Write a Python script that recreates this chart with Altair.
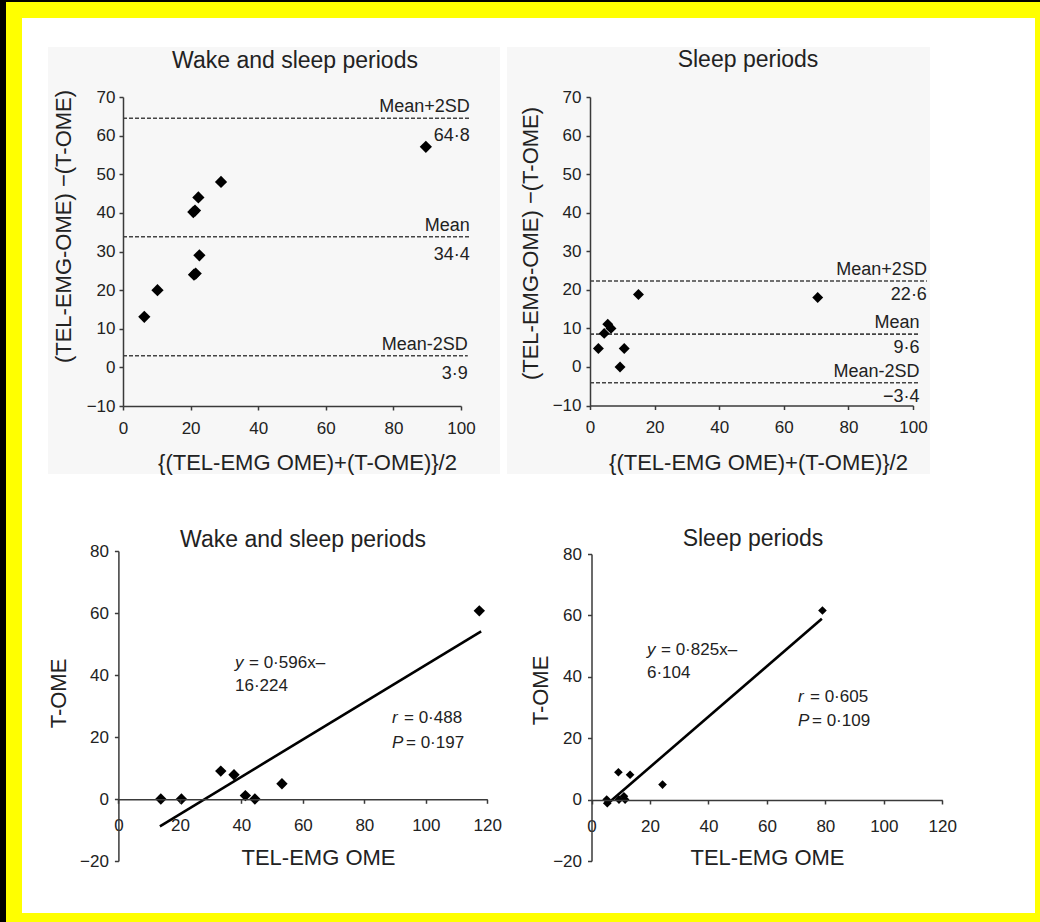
import altair as alt
import pandas as pd

# ---------------- data ----------------
# Top-left: Bland-Altman, wake and sleep periods
ba_all_mean = [6.3, 10.2, 20.8, 21.3, 22.3, 29.0, 21.0, 21.5, 22.6, 89.6]
ba_all_diff = [13.1, 20.0, 40.2, 40.6, 44.0, 48.0, 24.0, 24.3, 29.0, 57.1]
ba_all_limits = [64.5, 33.8, 3.0]
ba_all_limit_end = [102.6, 102.6, 102.0]
ba_all_names = ["Mean+2SD", "Mean", "Mean-2SD"]
ba_all_values = ["64·8", "34·4", "3·9"]

# Top-right: Bland-Altman, sleep periods
ba_sleep_mean = [2.6, 4.4, 5.5, 6.5, 9.3, 10.6, 15.0, 70.5]
ba_sleep_diff = [4.8, 8.7, 11.1, 10.0, 0.0, 4.8, 18.8, 18.0]
ba_sleep_limits = [22.3, 8.5, -4.1]
ba_sleep_limit_end = [104.3, 102.0, 102.0]
ba_sleep_names = ["Mean+2SD", "Mean", "Mean-2SD"]
ba_sleep_values = ["22·6", "9·6", "−3·4"]

# Bottom-left: regression, wake and sleep periods
tel_all = [13.8, 20.5, 33.3, 37.6, 41.3, 44.4, 53.2, 117.4]
tome_all = [0.0, 0.0, 9.0, 7.8, 1.1, 0.0, 4.9, 60.7]
fit_all_x = [13.5, 118.0]
fit_all_y = [-8.8, 54.1]

# Bottom-right: regression, sleep periods
tel_sleep = [5.2, 5.4, 9.2, 9.4, 11.1, 11.5, 13.2, 24.3, 79.0]
tome_sleep = [0.0, -1.2, 8.9, 0.0, 1.1, 0.0, 8.1, 4.9, 61.6]
fit_sleep_x = [5.8, 78.8]
fit_sleep_y = [-1.1, 58.9]

ba_ticks_x = [0, 20, 40, 60, 80, 100]
ba_ticks_y = [-10, 0, 10, 20, 30, 40, 50, 60, 70]
reg_ticks_x = [0, 20, 40, 60, 80, 100, 120]
reg_ticks_y = [-20, 0, 20, 40, 60, 80]

panel_titles = ["Wake and sleep periods", "Sleep periods", "Wake and sleep periods", "Sleep periods"]
ba_x_title = "{(TEL-EMG OME)+(T-OME)}/2"
ba_y_title = "(TEL-EMG-OME) −(T-OME)"
reg_x_title = "TEL-EMG OME"
reg_y_title = "T-OME"

# ---------------- layout / styling ----------------
FONT = "Liberation Sans"
CW, CH = 1040, 922            # canvas
PL, PT, PR, PB = 22, 18, 5, 9  # yellow frame = padding
W, H = CW - PL - PR, CH - PT - PB
INK = "#222222"
AX = "#3a3a3a"
DUMMY = alt.Data(values=[{}])


def X(px):  # canvas x -> plot x
    return px - PL


def Y(py):  # canvas y -> plot y
    return py - PT


def sc(domain, x0, x1):
    return alt.Scale(domain=domain, range=[x0, x1], nice=False, zero=False)


def xscale(domain, a, b):
    return sc(domain, X(a), X(b))


def yscale(domain, a, b):
    return sc(domain, Y(a), Y(b))


def xaxis(at_y, values, title, tx, ty, pad):
    return alt.Axis(
        orient="bottom", offset=Y(at_y) - H, values=values, title=title,
        titleX=X(tx), titleY=ty - at_y, titleAlign="center", titleBaseline="middle", titleAngle=0,
        titleFont=FONT, titleFontSize=22, titleFontWeight="normal", titleColor=INK,
        labelFont=FONT, labelFontSize=17, labelColor=INK, labelPadding=pad,
        labelFlush=False, labelOverlap=False, grid=False,
        domainColor=AX, domainWidth=1.5, tickColor=AX, tickWidth=1.5, tickSize=4, zindex=1)


def yaxis(at_x, values, title, tx, ty, pad):
    return alt.Axis(
        orient="left", offset=-X(at_x), values=values, title=title,
        titleX=tx - at_x, titleY=Y(ty), titleAlign="center", titleBaseline="middle", titleAngle=270,
        titleFont=FONT, titleFontSize=22, titleFontWeight="normal", titleColor=INK,
        labelFont=FONT, labelFontSize=17, labelColor=INK, labelPadding=pad,
        labelFlush=False, labelOverlap=False, grid=False,
        domainColor=AX, domainWidth=1.5, tickColor=AX, tickWidth=1.5, tickSize=4, zindex=1)


def rect(x, x2, y, y2, color):
    return alt.Chart(DUMMY).mark_rect(color=color, opacity=1).encode(
        x=alt.value(X(x)), x2=alt.value(X(x2)), y=alt.value(Y(y)), y2=alt.value(Y(y2)))


def text(s, x, y, size, align="left", italic=False):
    return alt.Chart(DUMMY).mark_text(
        text=s, align=align, baseline="alphabetic", font=FONT, fontSize=size,
        fontStyle="italic" if italic else "normal", color=INK,
    ).encode(x=alt.value(X(x)), y=alt.value(Y(y)))


def bland_altman(mean, diff, limits, ends, names, values, xs, ys, xax, yax, size, val_dy):
    pts = pd.DataFrame({"m": mean, "d": diff})
    lim = pd.DataFrame({"v": limits, "x1": ends, "name": names, "val": values})
    lim["x0"] = 0
    rules = alt.Chart(lim).mark_rule(strokeDash=[4, 2], color="#444444", strokeWidth=1.6).encode(
        x=alt.X("x0:Q", scale=xs, axis=None), x2="x1:Q",
        y=alt.Y("v:Q", scale=ys, axis=None))
    points = alt.Chart(pts).mark_point(shape="diamond", filled=True, color="black",
                                       opacity=1, size=size).encode(
        x=alt.X("m:Q", scale=xs, axis=xax), y=alt.Y("d:Q", scale=ys, axis=yax))
    lab = alt.Chart(lim).mark_text(align="right", baseline="bottom", dy=-2, font=FONT,
                                   fontSize=18, color=INK).encode(
        x=alt.X("x1:Q", scale=xs, axis=None), y=alt.Y("v:Q", scale=ys, axis=None), text="name:N")
    val = alt.Chart(lim).mark_text(align="right", baseline="top", dy=val_dy, font=FONT,
                                   fontSize=18, color=INK).encode(
        x=alt.X("x1:Q", scale=xs, axis=None), y=alt.Y("v:Q", scale=ys, axis=None), text="val:N")
    return [rules, points, lab, val]


def regression(tel, tome, fx, fy, xs, ys, xax, yax, size):
    pts = pd.DataFrame({"tel": tel, "tome": tome})
    fit = pd.DataFrame({"fx": fx, "fy": fy})
    line = alt.Chart(fit).mark_line(color="black", strokeWidth=2.6).encode(
        x=alt.X("fx:Q", scale=xs, axis=None), y=alt.Y("fy:Q", scale=ys, axis=None))
    points = alt.Chart(pts).mark_point(shape="diamond", filled=True, color="black",
                                       opacity=1, size=size).encode(
        x=alt.X("tel:Q", scale=xs, axis=xax), y=alt.Y("tome:Q", scale=ys, axis=yax))
    return [line, points]


# ---------------- panels ----------------
p1 = bland_altman(
    ba_all_mean, ba_all_diff, ba_all_limits, ba_all_limit_end, ba_all_names, ba_all_values,
    xscale([0, 100], 123, 461), yscale([-10, 70], 406, 97),
    xaxis(406, ba_ticks_x, ba_x_title, 307, 462, 10),
    yaxis(123, ba_ticks_y, ba_y_title, 63, 226, 4),
    150, 9)

p2 = bland_altman(
    ba_sleep_mean, ba_sleep_diff, ba_sleep_limits, ba_sleep_limit_end, ba_sleep_names, ba_sleep_values,
    xscale([0, 100], 590, 913), yscale([-10, 70], 405.5, 97),
    xaxis(405.5, ba_ticks_x, ba_x_title, 758, 462, 10),
    yaxis(590, ba_ticks_y, ba_y_title, 530, 243, 5),
    120, 5)

p3 = regression(
    tel_all, tome_all, fit_all_x, fit_all_y,
    xscale([0, 120], 118.4, 487.3), yscale([-20, 80], 861, 551),
    xaxis(799.3, reg_ticks_x, reg_x_title, 318, 857, 14),
    yaxis(118.4, reg_ticks_y, reg_y_title, 58, 693, 6),
    130)

p4 = regression(
    tel_sleep, tome_sleep, fit_sleep_x, fit_sleep_y,
    xscale([0, 120], 591.5, 942.3), yscale([-20, 80], 861, 554),
    xaxis(800, reg_ticks_x, reg_x_title, 767, 857, 14),
    yaxis(591.5, reg_ticks_y, reg_y_title, 540, 690, 6),
    75)

frame = [
    rect(0, CW, 0, 2, "black"),
    rect(0, 6, 0, CH, "black"),
    rect(48, 500, 47, 474, "#f7f7f7"),
    rect(507, 930, 47, 474, "#f7f7f7"),
]

titles = [
    text(panel_titles[0], 295, 68, 23, "center"),
    text(panel_titles[1], 748, 67, 23, "center"),
    text(panel_titles[2], 303, 547, 23, "center"),
    text(panel_titles[3], 753, 546, 23, "center"),
]

annotations = [
    text("y", 235, 668, 17, italic=True), text("= 0·596x–", 249, 668, 17),
    text("16·224", 235, 691, 17),
    text("r", 392, 723, 17, italic=True), text("= 0·488", 404, 723, 17),
    text("P", 392, 748, 17, italic=True), text("= 0·197", 406, 748, 17),
    text("y", 647, 655, 17, italic=True), text("= 0·825x–", 661, 655, 17),
    text("6·104", 647, 678, 17),
    text("r", 798, 702, 17, italic=True), text("= 0·605", 810, 702, 17),
    text("P", 798, 726, 17, italic=True), text("= 0·109", 812, 726, 17),
]

chart = alt.layer(
    *frame, *p1, *p2, *p3, *p4, *titles, *annotations
).resolve_scale(
    x="independent", y="independent"
).resolve_axis(
    x="independent", y="independent"
).properties(
    width=W, height=H, background="#ffff00",
    padding={"left": PL, "top": PT, "right": PR, "bottom": PB},
    autosize=alt.AutoSizeParams(type="none"),
).configure_view(stroke=None, fill="white")

chart.save("out.html", embed_options={"renderer": "svg", "actions": False})
